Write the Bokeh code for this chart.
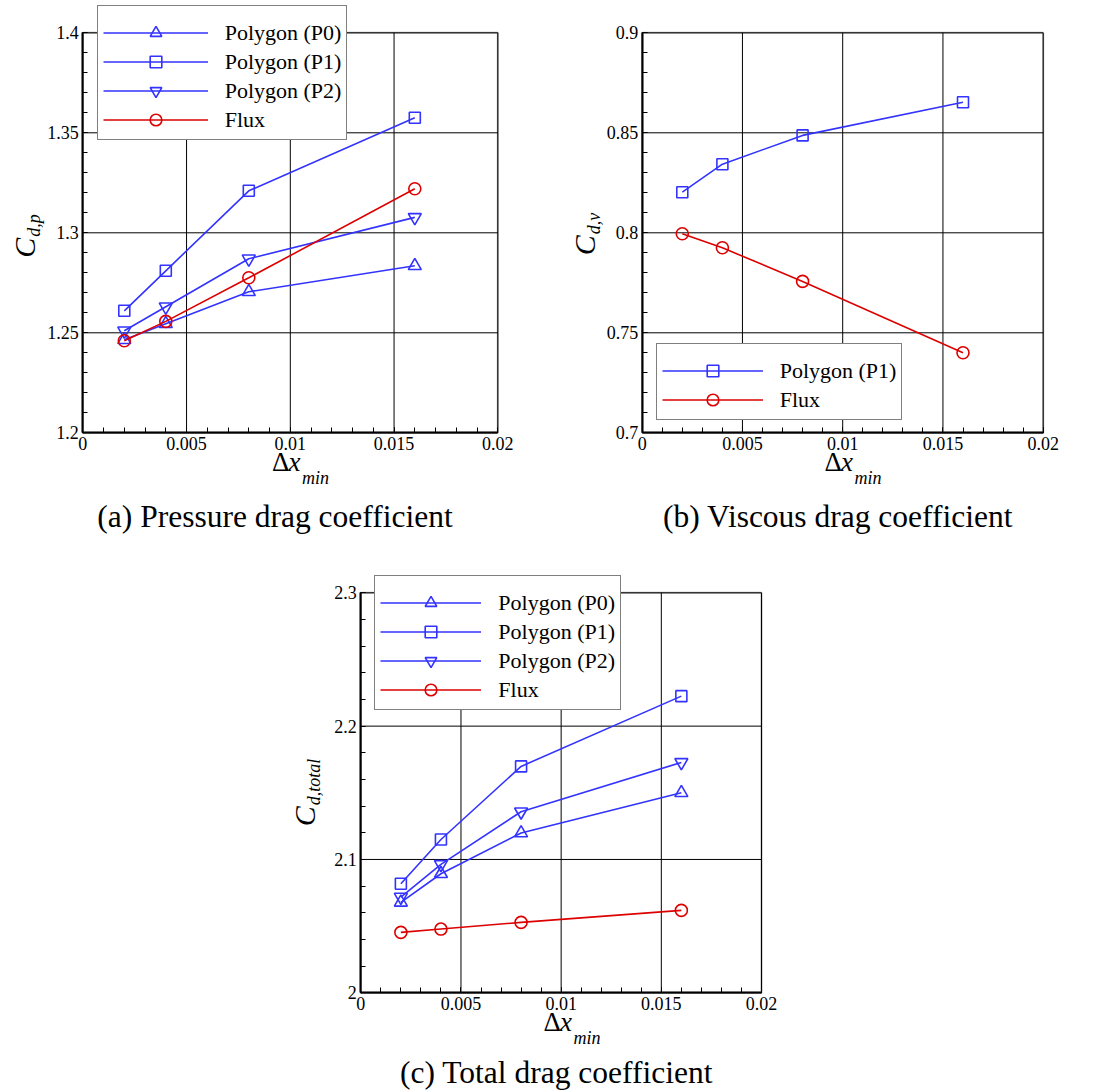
import math
from bokeh.plotting import figure
from bokeh.models import (FixedTicker, CustomJSTickFormatter, Legend, LegendItem,
                          Label, Range1d, BoxAnnotation)
from bokeh.layouts import column, row
from bokeh.embed import file_html
from bokeh.resources import INLINE

# ---------------- data ----------------
dx_min = [0.002, 0.004, 0.008, 0.016]

# (a) pressure drag coefficient
cdp_p0 = [1.2465, 1.2545, 1.2705, 1.2835]
cdp_p1 = [1.261, 1.281, 1.321, 1.3575]
cdp_p2 = [1.251, 1.263, 1.287, 1.3077]
cdp_flux = [1.246, 1.2557, 1.2775, 1.322]

# (b) viscous drag coefficient
cdv_p1 = [0.8203, 0.8343, 0.8487, 0.8653]
cdv_flux = [0.7995, 0.7925, 0.7757, 0.740]

# (c) total drag coefficient
cdt_p0 = [2.0678, 2.0893, 2.1198, 2.150]
cdt_p1 = [2.0818, 2.115, 2.1698, 2.2225]
cdt_p2 = [2.0718, 2.0963, 2.1358, 2.1728]
cdt_flux = [2.0453, 2.0478, 2.0528, 2.0618]

x_lim = (0.0, 0.02)
x_ticks = [0, 0.005, 0.01, 0.015, 0.02]
x_minor = [i / 1000 for i in range(0, 21)]
ya_lim = (1.2, 1.4)
ya_ticks = [1.2, 1.25, 1.3, 1.35, 1.4]
ya_minor = [round(1.2 + i * 0.01, 3) for i in range(21)]
yb_lim = (0.7, 0.9)
yb_ticks = [0.7, 0.75, 0.8, 0.85, 0.9]
yb_minor = [round(0.7 + i * 0.01, 3) for i in range(21)]
yc_lim = (2.0, 2.3)
yc_ticks = [2.0, 2.1, 2.2, 2.3]
yc_minor = [round(2.0 + i * 0.02, 3) for i in range(16)]

series_names = ["Polygon (P0)", "Polygon (P1)", "Polygon (P2)", "Flux"]
captions = ["(a) Pressure drag coefficient", "(b) Viscous drag coefficient",
            "(c) Total drag coefficient"]
y_subs = ["d,p", "d,v", "d,total"]

BLUE = "#3333ff"
RED = "#dd0000"
SERIF = "Liberation Serif"
markers = {"Polygon (P0)": ("triangle", 13, BLUE),
           "Polygon (P1)": ("square", 11, BLUE),
           "Polygon (P2)": ("inverted_triangle", 13, BLUE),
           "Flux": ("circle", 12, RED)}

fmt = CustomJSTickFormatter(code="return tick.toString();")

# empirical baseline correction (fraction of font size)
BASE_K = 0.3


def make_panel(series, ylim, yt, ym, ysub, caption, W, H, box, leg_tl,
               glyph_w, xlab, ylab, cap):
    """box = (left, top, right, bottom) of the plot box in canvas pixels."""
    L, T, R, B = box
    sx = (R - L) / (x_lim[1] - x_lim[0])
    sy = (B - T) / (ylim[1] - ylim[0])
    xr = Range1d(x_lim[0] - L / sx, x_lim[1] + (W - R) / sx)
    yr = Range1d(ylim[0] - (H - B) / sy, ylim[1] + T / sy)
    p = figure(width=W, height=H, x_range=xr, y_range=yr, min_border=0,
               output_backend="svg", toolbar_location=None,
               background_fill_color="white", border_fill_color="white")
    p.outline_line_color = None
    p.xgrid.visible = False
    p.ygrid.visible = False

    xa, ya = p.xaxis[0], p.yaxis[0]
    xa.fixed_location = ylim[0]
    ya.fixed_location = x_lim[0]
    xa.bounds = x_lim
    ya.bounds = ylim
    xa.ticker = FixedTicker(ticks=x_ticks, minor_ticks=x_minor)
    ya.ticker = FixedTicker(ticks=yt, minor_ticks=ym)
    for ax in (xa, ya):
        ax.formatter = fmt
        ax.axis_line_color = "black"
        ax.axis_line_width = 2
        ax.major_tick_in = 5
        ax.major_tick_out = 0
        ax.minor_tick_in = 5
        ax.minor_tick_out = 0
        ax.major_tick_line_color = "black"
        ax.minor_tick_line_color = "black"
        ax.major_label_text_font = SERIF
        ax.major_label_text_font_size = "18px"
        ax.major_label_text_color = "black"
        ax.major_label_standoff = 4

    # grid lines inside the plot box, at the major ticks
    p.segment(x0=x_ticks, y0=[ylim[0]] * len(x_ticks), x1=x_ticks,
              y1=[ylim[1]] * len(x_ticks), line_color="black", line_width=1,
              level="underlay")
    p.segment(x0=[x_lim[0]] * len(yt), y0=yt, x1=[x_lim[1]] * len(yt), y1=yt,
              line_color="black", line_width=1, level="underlay")

    items = []
    for name, ys in series:
        mk, sz, col = markers[name]
        lr = p.line(dx_min, ys, line_color=col, line_width=1.6)
        sr = p.scatter(dx_min, ys, marker=mk, size=sz, line_color=col,
                       line_width=1.6, fill_color=None)
        items.append(LegendItem(label=name, renderers=[lr, sr]))

    # plot box frame
    p.add_layout(BoxAnnotation(left=x_lim[0], right=x_lim[1], bottom=ylim[0],
                               top=ylim[1], fill_alpha=0, fill_color=None,
                               line_color="black", line_width=2,
                               editable=False))

    n = len(items)
    leg_h = 17 + 29 * n
    leg = Legend(items=items, location=(leg_tl[0], H - leg_tl[1] - leg_h),
                 padding=5, spacing=0, margin=0, label_height=29,
                 glyph_height=29, glyph_width=glyph_w, label_standoff=17,
                 label_text_font=SERIF, label_text_font_size="22px",
                 label_text_color="black",
                 border_line_color="black", border_line_width=1,
                 background_fill_color="white", background_fill_alpha=1,
                 title=" ", title_text_font_size="2px", title_standoff=5)
    p.add_layout(leg)

    def lab(x, y, text, size, italic=False, angle=0.0, align="left"):
        # (x, y): baseline anchor in canvas pixels from the top-left corner
        shift = BASE_K * size
        if angle == 0.0:
            y = y - shift
        else:
            x = x - shift
        p.add_layout(Label(x=x, y=H - y, x_units="screen", y_units="screen",
                           text=text, text_font=SERIF,
                           text_font_size=f"{size}px",
                           text_font_style="italic" if italic else "normal",
                           angle=angle, text_align=align,
                           text_baseline="alphabetic", text_color="black"))

    # x-axis label  Δx_min
    x0, yb0, yb1 = xlab
    lab(x0, yb0, "Δ", 27)
    lab(x0 + 16.5, yb0, "x", 27, italic=True)
    lab(x0 + 30, yb1, "min", 18, italic=True)

    # y-axis label  C_{d,..} (rotated)
    cx, cy = ylab
    sub_w = {"d,p": 22.5, "d,v": 21.5, "d,total": 46.5}[ysub]
    total = 20 + sub_w
    ystart = cy + total / 2.0
    lab(cx, ystart, "C", 30, italic=True, angle=math.pi / 2)
    lab(cx + 6, ystart - 21, ysub, 18, italic=True, angle=math.pi / 2)

    # caption
    lab(cap[0], cap[1], caption, 31.5, align="center")
    return p


# panel (a): canvas at page (0,0)
WA, HA = 545, 540
pa = make_panel([(series_names[0], cdp_p0), (series_names[1], cdp_p1),
                 (series_names[2], cdp_p2), (series_names[3], cdp_flux)],
                ya_lim, ya_ticks, ya_minor, y_subs[0], captions[0],
                WA, HA, (82.3, 32.3, 497.3, 432.3), (96.7, 7.3), 105,
                (271.5, 470, 483), (33, 236), (274.5, 525))
# panel (b): canvas at page (545,0)
WB, HB = 550, 540
pb = make_panel([(series_names[1], cdv_p1), (series_names[3], cdv_flux)],
                yb_lim, yb_ticks, yb_minor, y_subs[1], captions[1],
                WB, HB, (96.7, 32.3, 497.7, 432.3), (110.7, 345), 101,
                (279, 470, 483), (48, 234), (292.5, 525))
# panel (c): canvas at page (0,540)
WC, HC = 1095, 550
pc = make_panel([(series_names[0], cdt_p0), (series_names[1], cdt_p1),
                 (series_names[2], cdt_p2), (series_names[3], cdt_flux)],
                yc_lim, yc_ticks, yc_minor, y_subs[2], captions[2],
                WC, HC, (360.3, 52.3, 761.0, 452.3), (374.3, 37.3), 101,
                (543, 490, 503), (313, 252.5), (556, 541))

layout = column(row(pa, pb, spacing=0), pc, spacing=0)
open("out.html", "w").write(file_html(layout, INLINE))
